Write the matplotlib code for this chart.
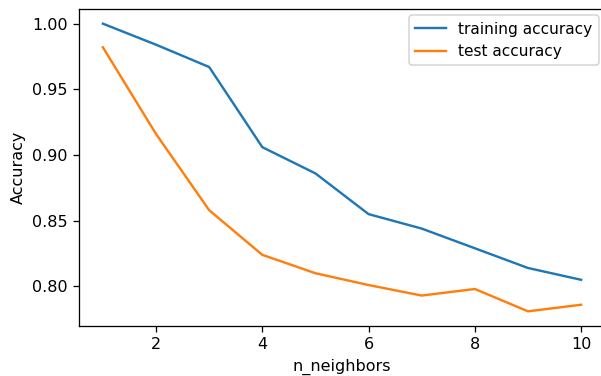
import matplotlib
matplotlib.use("Agg")
import matplotlib.pyplot as plt

# k-NN accuracy versus number of neighbours
n_neighbors = [1, 2, 3, 4, 5, 6, 7, 8, 9, 10]
training_accuracy = [1.000, 0.984, 0.967, 0.906, 0.886, 0.855, 0.844, 0.829, 0.814, 0.805]
test_accuracy = [0.982, 0.916, 0.858, 0.824, 0.810, 0.801, 0.793, 0.798, 0.781, 0.786]

DPI = 115.2
fig = plt.figure(figsize=(601 / DPI, 376 / DPI), dpi=DPI)
ax = fig.add_axes([79 / 601, 1 - 325.7 / 376, (605 - 79) / 601, (325.7 - 9.3) / 376])

ax.plot(n_neighbors, training_accuracy, label="training accuracy")
ax.plot(n_neighbors, test_accuracy, label="test accuracy")
ax.set_xlabel("n_neighbors")
ax.set_ylabel("Accuracy")
ax.legend(loc="upper right", fontsize=9.6, borderaxespad=0.4)

fig.savefig("out.png", dpi=DPI)
